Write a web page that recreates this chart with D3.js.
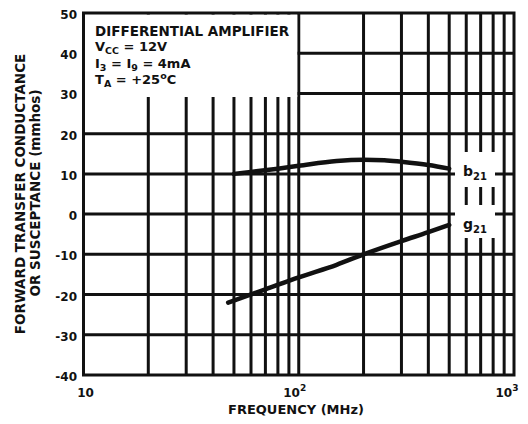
<!DOCTYPE html>
<html><head><meta charset="utf-8">
<script src="https://cdn.jsdelivr.net/npm/d3@7"></script>
<style>
body{margin:0;background:#fff;}
text{font-family:"DejaVu Sans",sans-serif;font-weight:bold;fill:#111;}
</style></head>
<body><svg id="c" width="528" height="424"></svg>
<script>
// ---- data ----
const xTickValues = [10, 100, 1000];
const xTickExponents = ["", "2", "3"];
const xGridValues = [20,30,40,50,60,70,80,90,100,200,300,400,500,600,700,800,900];
const yTickValues = [-40,-30,-20,-10,0,10,20,30,40,50];
const freqB = [50, 60, 80, 100, 150, 200, 250, 300, 400, 500];
const b21 = [10, 10.5, 11.3, 12, 13.2, 13.5, 13.4, 13.0, 12.2, 11.3];
const freqG = [47, 70, 100, 150, 200, 300, 400, 500];
const g21 = [-22, -18.7, -15.7, -12.6, -10, -6.7, -4.5, -2.7];
const seriesLabels = ["b", "g"];
const seriesSub = ["21", "21"];
const xTitle = "FREQUENCY (MHz)";
const yTitle1 = "FORWARD TRANSFER CONDUCTANCE";
const yTitle2 = "OR SUSCEPTANCE (mmhos)";

const svg = d3.select("#c");
svg.append("rect").attr("width",528).attr("height",424).attr("fill","#fff");

const x = d3.scaleLog().domain([10,1000]).range([83.5,514]);
const y = d3.scaleLinear().domain([-40,50]).range([375,13]);
const ink = "#111";
const gw = 3;

const g = svg.append("g");
// grid
g.selectAll("line.v").data(xGridValues).enter().append("line")
  .attr("x1",d=>x(d)).attr("x2",d=>x(d)).attr("y1",y(50)).attr("y2",y(-40))
  .attr("stroke",ink).attr("stroke-width",gw);
g.selectAll("line.h").data(yTickValues.filter(v=>v>-40&&v<50)).enter().append("line")
  .attr("x1",x(10)).attr("x2",x(1000)).attr("y1",d=>y(d)).attr("y2",d=>y(d))
  .attr("stroke",ink).attr("stroke-width",gw);

// white boxes (legend, series labels)
svg.append("rect").attr("x",x(10)+1.5).attr("y",y(50)+1.5)
  .attr("width",x(100)-1.5-(x(10)+1.5)).attr("height",97-(y(50)+1.5)).attr("fill","#fff");
svg.append("rect").attr("x",455).attr("y",152).attr("width",40).attr("height",35).attr("fill","#fff");
svg.append("rect").attr("x",455).attr("y",205).attr("width",40).attr("height",33).attr("fill","#fff");

// frame
svg.append("rect").attr("x",x(10)).attr("y",y(50)).attr("width",x(1000)-x(10)).attr("height",y(-40)-y(50))
  .attr("fill","none").attr("stroke",ink).attr("stroke-width",gw);

// curves
const line = d3.line().x(d=>x(d[0])).y(d=>y(d[1])).curve(d3.curveMonotoneX);
svg.append("path").datum(freqB.map((f,i)=>[f,b21[i]])).attr("d",line)
  .attr("fill","none").attr("stroke",ink).attr("stroke-width",4.5).attr("stroke-linecap","round");
svg.append("path").datum(freqG.map((f,i)=>[f,g21[i]])).attr("d",line)
  .attr("fill","none").attr("stroke",ink).attr("stroke-width",4.5).attr("stroke-linecap","round");

// series labels
const labY = [176, 229];
seriesLabels.forEach((s,i)=>{
  const t = svg.append("text").attr("x",463).attr("y",labY[i]).attr("font-size",14);
  t.append("tspan").text(s);
  t.append("tspan").attr("font-size",10).attr("dy",3.5).text(seriesSub[i]);
});

// y ticks
svg.selectAll("text.yt").data(yTickValues).enter().append("text")
  .attr("x",77).attr("y",d=>y(d)+6).attr("text-anchor","end").attr("font-size",12)
  .text(d=>String(d));

// x ticks
const xOff = [2, -4, -7];
xTickValues.forEach((v,i)=>{
  const t = svg.append("text").attr("x",x(v)+xOff[i]).attr("y",397).attr("text-anchor","middle").attr("font-size",12);
  t.append("tspan").text("10");
  if (xTickExponents[i]) t.append("tspan").attr("font-size",9).attr("dy",-6).text(xTickExponents[i]);
});

// titles
svg.append("text").attr("x",296).attr("y",414).attr("text-anchor","middle").attr("font-size",13).text(xTitle);
svg.append("text").attr("transform","translate(25,194) rotate(-90)").attr("text-anchor","middle")
  .attr("font-size",13.5).text(yTitle1);
svg.append("text").attr("transform","translate(40,193) rotate(-90)").attr("text-anchor","middle")
  .attr("font-size",13.5).text(yTitle2);

// legend text
const lx = 95;
svg.append("text").attr("x",lx).attr("y",36).attr("font-size",13.5).text("DIFFERENTIAL AMPLIFIER");
const l2 = svg.append("text").attr("x",lx).attr("y",51).attr("font-size",13);
l2.append("tspan").text("V");
l2.append("tspan").attr("font-size",9.5).attr("dy",3).text("CC");
l2.append("tspan").attr("dy",-3).text(" = 12V");
const l3 = svg.append("text").attr("x",lx).attr("y",68).attr("font-size",13);
l3.append("tspan").text("I");
l3.append("tspan").attr("font-size",9.5).attr("dy",3).text("3");
l3.append("tspan").attr("dy",-3).text(" = I");
l3.append("tspan").attr("font-size",9.5).attr("dy",3).text("9");
l3.append("tspan").attr("dy",-3).text(" = 4mA");
const l4 = svg.append("text").attr("x",lx).attr("y",84).attr("font-size",13);
l4.append("tspan").text("T");
l4.append("tspan").attr("font-size",9.5).attr("dy",3).text("A");
l4.append("tspan").attr("dy",-3).text(" = +25");
l4.append("tspan").attr("font-size",9.5).attr("dy",-5).text("o");
l4.append("tspan").attr("dy",5).text("C");
</script></body></html>
